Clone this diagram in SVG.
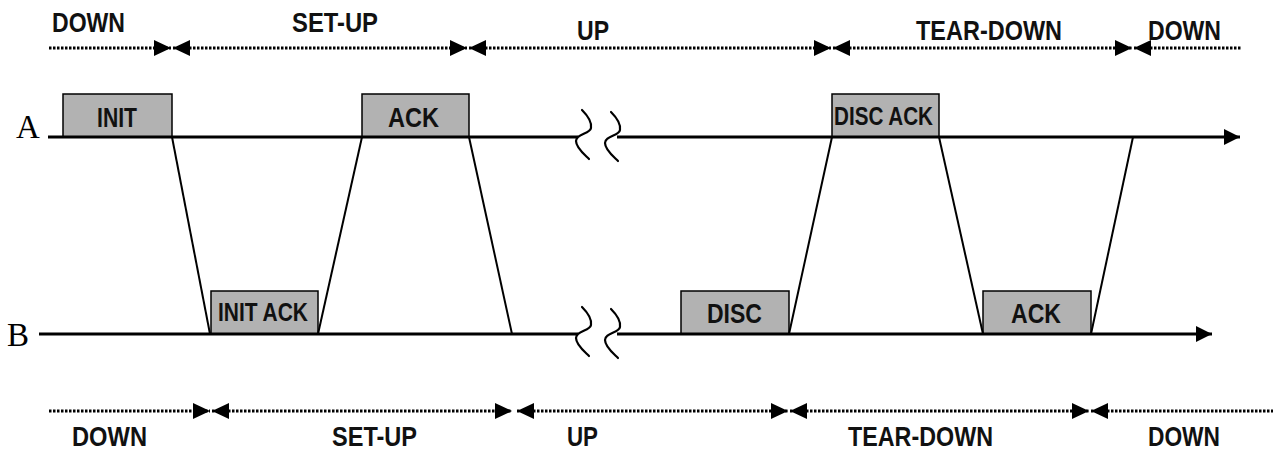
<svg xmlns="http://www.w3.org/2000/svg" width="1273" height="450" viewBox="0 0 1273 450">
  <style>
    .phase { fill: none; stroke: #000; stroke-width: 3; stroke-dasharray: 2.5 1.5; }
    .life { fill: none; stroke: #000; stroke-width: 3; }
    .msg { fill: none; stroke: #000; stroke-width: 2; }
    .brk { fill: none; stroke: #000; stroke-width: 2.2; stroke-linecap: round; }
    .box { fill: #b2b2b2; stroke: #000; stroke-width: 1.5; }
    .lbl { font-family: "Liberation Sans Narrow", "Liberation Sans", Arial, sans-serif; font-weight: bold; font-size: 28px; fill: #111; }
    .small { font-size: 25px; }
    .ent { font-family: "Liberation Serif", "Times New Roman", serif; font-size: 33px; fill: #000; }
  </style>
  <defs>
    <marker id="tri" viewBox="0 0 17 16" refX="17" refY="8" markerWidth="17" markerHeight="16" markerUnits="userSpaceOnUse" orient="auto-start-reverse">
      <path d="M0,0 L17,8 L0,16 Z" fill="#000"/>
    </marker>
    <marker id="head" viewBox="0 0 16 16" refX="16" refY="8" markerWidth="16" markerHeight="16" markerUnits="userSpaceOnUse" orient="auto">
      <path d="M0,0 L16,8 L0,16 Z" fill="#000"/>
    </marker>
    <!-- wavy time-break mark -->
    <path id="squig" d="M0,0 C6,6 10,12 9,18 C8,24 -6,24 -6,31 C-6,38 3,45 7,49"/>
  </defs>

  <!-- phase timeline as seen from A (top) -->
  <g id="phases-top">
    <line class="phase" x1="49" y1="48" x2="171" y2="48" marker-end="url(#tri)"/>
    <line class="phase" x1="173" y1="48" x2="467" y2="48" marker-start="url(#tri)" marker-end="url(#tri)"/>
    <line class="phase" x1="469" y1="48" x2="831" y2="48" marker-start="url(#tri)" marker-end="url(#tri)"/>
    <line class="phase" x1="833" y1="48" x2="1132" y2="48" marker-start="url(#tri)" marker-end="url(#tri)"/>
    <line class="phase" x1="1134" y1="48" x2="1242" y2="48" marker-start="url(#tri)"/>
    <text class="lbl" x="52" y="32" textLength="73" lengthAdjust="spacingAndGlyphs">DOWN</text>
    <text class="lbl" x="292" y="32" textLength="86" lengthAdjust="spacingAndGlyphs">SET-UP</text>
    <text class="lbl" x="577" y="40" textLength="32" lengthAdjust="spacingAndGlyphs">UP</text>
    <text class="lbl" x="916" y="40" textLength="146" lengthAdjust="spacingAndGlyphs">TEAR-DOWN</text>
    <text class="lbl" x="1148" y="40" textLength="73" lengthAdjust="spacingAndGlyphs">DOWN</text>
  </g>

  <!-- phase timeline as seen from B (bottom) -->
  <g id="phases-bottom">
    <line class="phase" x1="49" y1="411" x2="210" y2="411" marker-end="url(#tri)"/>
    <line class="phase" x1="212" y1="411" x2="512" y2="411" marker-start="url(#tri)" marker-end="url(#tri)"/>
    <line class="phase" x1="517" y1="411" x2="788" y2="411" marker-start="url(#tri)" marker-end="url(#tri)"/>
    <line class="phase" x1="790" y1="411" x2="1089" y2="411" marker-start="url(#tri)" marker-end="url(#tri)"/>
    <line class="phase" x1="1091" y1="411" x2="1273" y2="411" marker-start="url(#tri)"/>
    <text class="lbl" x="72" y="446" textLength="75" lengthAdjust="spacingAndGlyphs">DOWN</text>
    <text class="lbl" x="332" y="446" textLength="85" lengthAdjust="spacingAndGlyphs">SET-UP</text>
    <text class="lbl" x="567" y="446" textLength="31" lengthAdjust="spacingAndGlyphs">UP</text>
    <text class="lbl" x="848" y="446" textLength="145" lengthAdjust="spacingAndGlyphs">TEAR-DOWN</text>
    <text class="lbl" x="1148" y="446" textLength="72" lengthAdjust="spacingAndGlyphs">DOWN</text>
  </g>

  <!-- messages sent by A -->
  <g id="msg-init">
    <rect class="box" x="63" y="94" width="109" height="43"/>
    <text class="lbl" x="97" y="127" textLength="40" lengthAdjust="spacingAndGlyphs">INIT</text>
  </g>
  <g id="msg-ack-a">
    <rect class="box" x="362" y="94" width="107" height="43"/>
    <text class="lbl" x="388" y="127" textLength="51" lengthAdjust="spacingAndGlyphs">ACK</text>
  </g>
  <g id="msg-disc-ack">
    <rect class="box" x="832" y="94" width="107" height="43"/>
    <text class="lbl small" x="834" y="125" textLength="99" lengthAdjust="spacingAndGlyphs">DISC ACK</text>
  </g>

  <!-- messages sent by B -->
  <g id="msg-init-ack">
    <rect class="box" x="211" y="291" width="107" height="43"/>
    <text class="lbl small" x="218" y="321" textLength="90" lengthAdjust="spacingAndGlyphs">INIT ACK</text>
  </g>
  <g id="msg-disc">
    <rect class="box" x="681" y="291" width="108" height="43"/>
    <text class="lbl" x="707" y="323" textLength="55" lengthAdjust="spacingAndGlyphs">DISC</text>
  </g>
  <g id="msg-ack-b">
    <rect class="box" x="983" y="291" width="108" height="43"/>
    <text class="lbl" x="1011" y="323" textLength="50" lengthAdjust="spacingAndGlyphs">ACK</text>
  </g>

  <!-- endpoint timelines -->
  <g id="endpoint-a">
    <text class="ent" x="16" y="138">A</text>
    <line class="life" x1="48" y1="137" x2="578" y2="137"/>
    <line class="life" x1="617" y1="137" x2="1240" y2="137" marker-end="url(#head)"/>
    <use href="#squig" class="brk" transform="translate(582,110)"/>
    <use href="#squig" class="brk" transform="translate(611,112)"/>
  </g>
  <g id="endpoint-b">
    <text class="ent" x="7" y="346">B</text>
    <line class="life" x1="39" y1="334" x2="578" y2="334"/>
    <line class="life" x1="617" y1="334" x2="1212" y2="334" marker-end="url(#head)"/>
    <use href="#squig" class="brk" transform="translate(582,307)"/>
    <use href="#squig" class="brk" transform="translate(611,309)"/>
  </g>

  <!-- propagation lines between A and B -->
  <g id="connectors">
    <line class="msg" x1="172" y1="137" x2="210" y2="334"/>
    <line class="msg" x1="318" y1="334" x2="362" y2="137"/>
    <line class="msg" x1="469" y1="137" x2="512" y2="334"/>
    <line class="msg" x1="789" y1="334" x2="832" y2="137"/>
    <line class="msg" x1="939" y1="137" x2="983" y2="334"/>
    <line class="msg" x1="1091" y1="334" x2="1133" y2="137"/>
  </g>
</svg>
